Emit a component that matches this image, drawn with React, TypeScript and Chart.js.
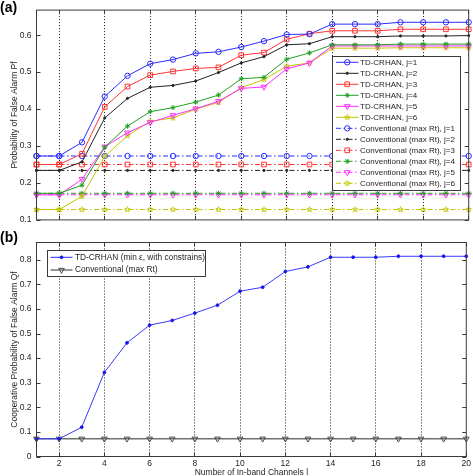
import React, { useEffect, useRef } from 'react';
import { Chart, registerables } from 'chart.js';

Chart.register(...registerables);

// ---------- data ----------
const channels = [1, 2, 3, 4, 5, 6, 7, 8, 9, 10, 11, 12, 13, 14, 15, 16, 17, 18, 19, 20];
const xTickValues = [2, 4, 6, 8, 10, 12, 14, 16, 18, 20];
const topYTickValues = [0.1, 0.2, 0.3, 0.4, 0.5, 0.6];
const bottomYTickValues = [0, 0.1, 0.2, 0.3, 0.4, 0.5, 0.6, 0.7, 0.8];

const tdJ1 = [0.273, 0.273, 0.310, 0.434, 0.490, 0.523, 0.534, 0.551, 0.555, 0.568, 0.584, 0.602, 0.603, 0.630, 0.630, 0.630, 0.635, 0.635, 0.635, 0.635];
const tdJ2 = [0.234, 0.234, 0.257, 0.376, 0.429, 0.459, 0.464, 0.476, 0.499, 0.525, 0.542, 0.574, 0.577, 0.596, 0.596, 0.596, 0.598, 0.598, 0.598, 0.599];
const tdJ3 = [0.250, 0.250, 0.279, 0.406, 0.461, 0.492, 0.502, 0.510, 0.513, 0.546, 0.553, 0.589, 0.604, 0.612, 0.612, 0.612, 0.616, 0.616, 0.616, 0.616];
const tdJ4 = [0.172, 0.172, 0.194, 0.297, 0.354, 0.393, 0.404, 0.419, 0.438, 0.482, 0.486, 0.535, 0.552, 0.574, 0.574, 0.574, 0.576, 0.576, 0.576, 0.576];
const tdJ5 = [0.168, 0.168, 0.210, 0.298, 0.336, 0.364, 0.383, 0.401, 0.421, 0.456, 0.460, 0.509, 0.525, 0.571, 0.571, 0.571, 0.571, 0.571, 0.571, 0.571];
const tdJ6 = [0.128, 0.128, 0.164, 0.272, 0.328, 0.367, 0.376, 0.400, 0.418, 0.458, 0.480, 0.516, 0.525, 0.565, 0.565, 0.565, 0.566, 0.566, 0.566, 0.566];

const convJ1 = [0.273, 0.273, 0.273, 0.273, 0.273, 0.273, 0.273, 0.273, 0.273, 0.273, 0.273, 0.273, 0.273, 0.273, 0.273, 0.273, 0.273, 0.273, 0.273, 0.273];
const convJ2 = [0.234, 0.234, 0.234, 0.234, 0.234, 0.234, 0.234, 0.234, 0.234, 0.234, 0.234, 0.234, 0.234, 0.234, 0.234, 0.234, 0.234, 0.234, 0.234, 0.234];
const convJ3 = [0.250, 0.250, 0.250, 0.250, 0.250, 0.250, 0.250, 0.250, 0.250, 0.250, 0.250, 0.250, 0.250, 0.250, 0.250, 0.250, 0.250, 0.250, 0.250, 0.250];
const convJ4 = [0.172, 0.172, 0.172, 0.172, 0.172, 0.172, 0.172, 0.172, 0.172, 0.172, 0.172, 0.172, 0.172, 0.172, 0.172, 0.172, 0.172, 0.172, 0.172, 0.172];
const convJ5 = [0.168, 0.168, 0.168, 0.168, 0.168, 0.168, 0.168, 0.168, 0.168, 0.168, 0.168, 0.168, 0.168, 0.168, 0.168, 0.168, 0.168, 0.168, 0.168, 0.168];
const convJ6 = [0.128, 0.128, 0.128, 0.128, 0.128, 0.128, 0.128, 0.128, 0.128, 0.128, 0.128, 0.128, 0.128, 0.128, 0.128, 0.128, 0.128, 0.128, 0.128, 0.128];

const tdQf = [0.072, 0.072, 0.119, 0.342, 0.462, 0.534, 0.553, 0.583, 0.615, 0.672, 0.688, 0.752, 0.771, 0.810, 0.810, 0.810, 0.814, 0.814, 0.814, 0.814];
const convQf = [0.072, 0.072, 0.072, 0.072, 0.072, 0.072, 0.072, 0.072, 0.072, 0.072, 0.072, 0.072, 0.072, 0.072, 0.072, 0.072, 0.072, 0.072, 0.072, 0.072];

const topLabels = [
  'TD-CRHAN, j=1', 'TD-CRHAN, j=2', 'TD-CRHAN, j=3', 'TD-CRHAN, j=4', 'TD-CRHAN, j=5', 'TD-CRHAN, j=6',
  'Conventional (max Rt), j=1', 'Conventional (max Rt), j=2', 'Conventional (max Rt), j=3',
  'Conventional (max Rt), j=4', 'Conventional (max Rt), j=5', 'Conventional (max Rt), j=6',
];
const bottomLabels = ['TD-CRHAN (min \u03b5, with constrains)', 'Conventional (max Rt)'];

const topYTitle = 'Probability of False Alarm Pf';
const bottomYTitle = 'Cooperative Probability of False Alarm Qf';
const xTitle = 'Number of In-band Channels l';

// ---------- styles ----------
const FAMILY = "'Liberation Sans', Arial, Helvetica, sans-serif";
const FS = 8.5;
const TEXT = '#1e1e1e';
const DASH_DOT = [5, 2.5, 1.5, 2.5];
const C_BLUE = '#2b2bff';
const C_BLACK = '#222222';
const C_RED = '#ff3535';
const C_GREEN = '#22a022';
const C_MAG = '#ff2bff';
const C_YEL = '#c4c400';

function pentagram(color: string, r: number) {
  const c = document.createElement('canvas');
  const size = Math.ceil(r * 2 + 3);
  c.width = size;
  c.height = size;
  const g = c.getContext('2d') as CanvasRenderingContext2D;
  g.strokeStyle = color;
  g.lineWidth = 1;
  g.beginPath();
  for (let i = 0; i < 10; i++) {
    const ang = -Math.PI / 2 + (i * Math.PI) / 5;
    const rr = i % 2 === 0 ? r : r * 0.42;
    const px = size / 2 + rr * Math.cos(ang);
    const py = size / 2 + rr * Math.sin(ang);
    if (i === 0) g.moveTo(px, py);
    else g.lineTo(px, py);
  }
  g.closePath();
  g.stroke();
  return c;
}

type Marker = { style: any; r: number; rot?: number; fill?: boolean };

function series(label: string, values: number[], color: string, m: Marker, dashed: boolean, lineColor?: string, lineWidth?: number) {
  return {
    label,
    data: channels.map((x, i) => ({ x, y: values[i] })),
    borderColor: lineColor || color,
    borderWidth: lineWidth || 1,
    borderDash: dashed ? DASH_DOT : [],
    pointStyle: m.style,
    pointRadius: m.r,
    pointHoverRadius: m.r,
    pointRotation: m.rot || 0,
    pointBorderColor: color,
    pointBackgroundColor: m.fill ? color : 'rgba(0,0,0,0)',
    pointBorderWidth: 1,
    tension: 0,
    fill: false,
    clip: false,
  };
}

function drawMarker(ctx: CanvasRenderingContext2D, ds: any, x: number, y: number) {
  const style = ds.pointStyle;
  const r = ds.pointRadius;
  ctx.save();
  ctx.setLineDash([]);
  ctx.lineWidth = ds.pointBorderWidth || 1;
  ctx.strokeStyle = ds.pointBorderColor;
  ctx.fillStyle = ds.pointBackgroundColor;
  if (typeof style !== 'string') {
    ctx.drawImage(style, x - style.width / 2, y - style.height / 2);
    ctx.restore();
    return;
  }
  ctx.beginPath();
  if (style === 'circle') {
    ctx.arc(x, y, r, 0, Math.PI * 2);
  } else if (style === 'rect') {
    const s = r * Math.SQRT1_2;
    ctx.rect(x - s, y - s, 2 * s, 2 * s);
  } else if (style === 'triangle') {
    let a = ((ds.pointRotation || 0) * Math.PI) / 180;
    for (let k = 0; k < 3; k++) {
      const px = x + Math.sin(a) * r;
      const py = y - Math.cos(a) * r;
      if (k === 0) ctx.moveTo(px, py);
      else ctx.lineTo(px, py);
      a += (2 * Math.PI) / 3;
    }
    ctx.closePath();
  } else if (style === 'star') {
    ctx.moveTo(x - r, y); ctx.lineTo(x + r, y);
    ctx.moveTo(x, y - r); ctx.lineTo(x, y + r);
    const d = r * Math.SQRT1_2;
    ctx.moveTo(x - d, y - d); ctx.lineTo(x + d, y + d);
    ctx.moveTo(x - d, y + d); ctx.lineTo(x + d, y - d);
  }
  ctx.fill();
  ctx.stroke();
  ctx.restore();
}

const matlabFrame = {
  id: 'matlabFrame',
  afterDatasetsDraw(chart: any) {
    const { ctx, chartArea: a, scales } = chart;
    ctx.save();
    ctx.strokeStyle = '#3a3a3a';
    ctx.lineWidth = 1;
    ctx.setLineDash([]);
    ctx.strokeRect(a.left, a.top, a.right - a.left, a.bottom - a.top);
    const tl = 4;
    ctx.beginPath();
    scales.y.ticks.forEach((t: any) => {
      const py = Math.round(scales.y.getPixelForValue(t.value)) + 0.5;
      ctx.moveTo(a.left, py); ctx.lineTo(a.left + tl, py);
      ctx.moveTo(a.right, py); ctx.lineTo(a.right - tl, py);
    });
    scales.x.ticks.forEach((t: any) => {
      const px = Math.round(scales.x.getPixelForValue(t.value) - 0.5) + 0.5;
      ctx.moveTo(px, a.bottom); ctx.lineTo(px, a.bottom - tl);
      ctx.moveTo(px, a.top); ctx.lineTo(px, a.top + tl);
    });
    ctx.stroke();
    ctx.restore();
  },
  afterDraw(chart: any, _args: any, opts: any) {
    const { ctx } = chart;
    const L = opts.legend;
    ctx.save();
    // legend box
    ctx.fillStyle = '#ffffff';
    ctx.fillRect(L.x0, L.y0, L.x1 - L.x0, L.y1 - L.y0);
    ctx.strokeStyle = '#3a3a3a';
    ctx.lineWidth = 1;
    ctx.setLineDash([]);
    ctx.strokeRect(L.x0, L.y0, L.x1 - L.x0, L.y1 - L.y0);
    chart.data.datasets.forEach((ds: any, i: number) => {
      const y = L.rowY0 + i * L.rowStep;
      ctx.save();
      ctx.strokeStyle = L.lineColors ? L.lineColors[i] : ds.borderColor;
      ctx.lineWidth = 1;
      ctx.setLineDash(ds.borderDash || []);
      ctx.beginPath();
      ctx.moveTo(L.lineX0, y);
      ctx.lineTo(L.lineX1, y);
      ctx.stroke();
      ctx.restore();
      drawMarker(ctx, ds, (L.lineX0 + L.lineX1) / 2, y);
      ctx.fillStyle = TEXT;
      ctx.font = `${L.fontSize}px ${FAMILY}`;
      ctx.textBaseline = 'middle';
      ctx.textAlign = 'left';
      ctx.fillText(ds.label, L.textX, y);
    });
    // panel label
    ctx.fillStyle = '#000';
    ctx.font = `bold 14px ${FAMILY}`;
    ctx.textBaseline = 'top';
    ctx.textAlign = 'left';
    ctx.fillText(opts.panel, 0, opts.panelY);
    ctx.restore();
  },
};

function buildOptions(cfg: any) {
  const font = { family: FAMILY, size: FS };
  return {
    responsive: false,
    animation: false,
    devicePixelRatio: 1,
    events: [],
    layout: { padding: { top: cfg.padTop, right: 3.5, left: 0, bottom: 0 } },
    plugins: {
      legend: { display: false },
      tooltip: { enabled: false },
      matlabFrame: { legend: cfg.legend, panel: cfg.panel, panelY: 1 },
    },
    scales: {
      x: {
        type: 'linear',
        min: 1,
        max: 20,
        afterBuildTicks: (s: any) => { s.ticks = xTickValues.map((v) => ({ value: v })); },
        afterFit: (s: any) => { s.height = cfg.xHeight; },
        grid: {
          drawTicks: false,
          lineWidth: 1,
          color: (c: any) => (c.tick && c.tick.value === 20 ? 'rgba(0,0,0,0)' : '#1a1a1a'),
        },
        border: { display: false, dash: [1, 2] },
        ticks: { display: cfg.showX, padding: 2, font, color: TEXT, maxRotation: 0, autoSkip: false },
        title: { display: cfg.showX, text: xTitle, font, color: TEXT, padding: { top: 0, bottom: -1.5 } },
      },
      y: {
        type: 'linear',
        min: cfg.yMin,
        max: cfg.yMax,
        afterBuildTicks: (s: any) => { s.ticks = cfg.yTicks.map((v: number) => ({ value: v })); },
        afterFit: (s: any) => { s.width = 36.5; },
        grid: { display: false, drawTicks: false },
        border: { display: false },
        ticks: {
          padding: 5,
          font,
          color: TEXT,
          callback: (v: number) => String(Math.round(v * 10) / 10),
        },
        title: { display: true, text: cfg.yTitle, font, color: TEXT, padding: { top: 9.4, bottom: 0 } },
      },
    },
  };
}

export default function App() {
  const topRef = useRef<HTMLCanvasElement>(null);
  const botRef = useRef<HTMLCanvasElement>(null);

  useEffect(() => {
    const circle: Marker = { style: 'circle', r: 2.7 };
    const dot: Marker = { style: 'circle', r: 1.1, fill: true };
    const square: Marker = { style: 'rect', r: 3.3 };
    const star: Marker = { style: 'star', r: 2.5 };
    const triDown: Marker = { style: 'triangle', r: 3.3, rot: 180 };
    const penta: Marker = { style: pentagram(C_YEL, 2.8), r: 2.8 };

    const topTD = [tdJ1, tdJ2, tdJ3, tdJ4, tdJ5, tdJ6];
    const topConv = [convJ1, convJ2, convJ3, convJ4, convJ5, convJ6];
    const colors = [C_BLUE, C_BLACK, C_RED, C_GREEN, C_MAG, C_YEL];
    const markers = [circle, dot, square, star, triDown, penta];

    const topDatasets = [
      ...topTD.map((v, i) => series(topLabels[i], v, colors[i], markers[i], false)),
      ...topConv.map((v, i) => series(topLabels[i + 6], v, colors[i], markers[i], true)),
    ];

    const top = new Chart(topRef.current as HTMLCanvasElement, {
      type: 'line',
      data: { datasets: topDatasets as any },
      options: buildOptions({
        padTop: 7.5,
        xHeight: 5.5,
        showX: false,
        yMin: 0.1,
        yMax: 0.668,
        yTicks: topYTickValues,
        yTitle: topYTitle,
        panel: '(a)',
        legend: {
          x0: 332.5, y0: 56.5, x1: 460.5, y1: 190.5,
          rowY0: 62.3, rowStep: 11.0,
          lineX0: 336, lineX1: 358.5, textX: 360, fontSize: 8,
        },
      }) as any,
      plugins: [matlabFrame],
    });

    const bottomDatasets = [
      series(bottomLabels[0], tdQf, '#1515f0', { style: 'circle', r: 1.4, fill: true }, false, '#3a3aff', 1),
      series(bottomLabels[1], convQf, '#4a4a4a', { style: 'triangle', r: 3.3, rot: 180 }, false, '#707070', 1.6),
    ];

    const bottom = new Chart(botRef.current as HTMLCanvasElement, {
      type: 'line',
      data: { datasets: bottomDatasets as any },
      options: buildOptions({
        padTop: 12.5,
        xHeight: 19.5,
        showX: true,
        yMin: 0,
        yMax: 0.87,
        yTicks: bottomYTickValues,
        yTitle: bottomYTitle,
        panel: '(b)',
        legend: {
          x0: 47.5, y0: 20.5, x1: 205.5, y1: 46.5,
          rowY0: 27.3, rowStep: 12.7,
          lineX0: 50.5, lineX1: 72.5, textX: 75, fontSize: 8.3,
          lineColors: ['#2b2bff', '#333333'],
        },
      }) as any,
      plugins: [matlabFrame],
    });

    return () => {
      top.destroy();
      bottom.destroy();
    };
  }, []);

  return (
    <div style={{ position: 'absolute', left: 0, top: 0, width: 473, height: 476, background: '#fff', overflow: 'hidden' }}>
      <canvas ref={topRef} width={473} height={230} style={{ position: 'absolute', left: 0, top: 0, display: 'block' }} />
      <canvas ref={botRef} width={473} height={246} style={{ position: 'absolute', left: 0, top: 230, display: 'block' }} />
    </div>
  );
}
